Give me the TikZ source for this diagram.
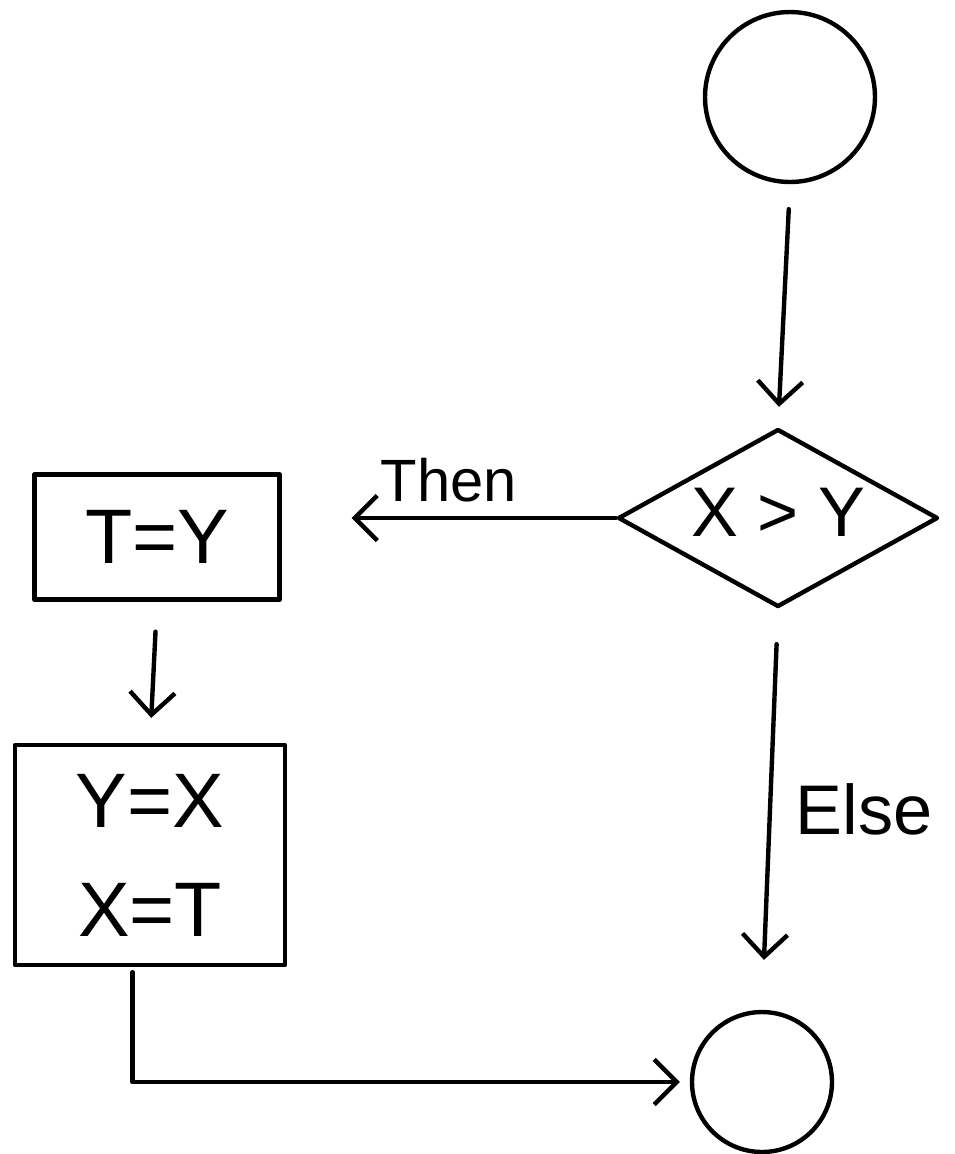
\documentclass[tikz,border=0pt]{standalone}
\usepackage{fontspec}
\setmainfont{Liberation Sans}
\usetikzlibrary{shapes.geometric,arrows.meta}
\begin{document}
\begin{tikzpicture}[x=0.02cm,y=-0.02cm,
  every path/.style={line width=2.5pt,line cap=round,line join=round},
  outline/.style={draw,line width=2.5pt,inner sep=0pt},
  arr/.style={draw,line width=2.5pt,-{Straight Barb[length=4.5mm,width=9mm,line width=2.5pt]}},
  big/.style={font=\fontsize{44}{62}\selectfont}]
\useasboundingbox (0,0) rectangle (955,1154);
% start and end terminals
\node[outline,circle,minimum size=3.4cm] (start) at (790,97) {};
\node[outline,circle,minimum size=2.8cm] (endc) at (762,1082) {};
% decision (label kept out of the shape's size calculation)
\node[outline,diamond,shape aspect=1.8,minimum width=6.4cm,minimum height=3.56cm,
  text height=0.75cm,text depth=0pt,font=\fontsize{40}{48}\selectfont] (dec) at (778,518) {\makebox[0pt]{X > Y}};
% process boxes
\node[outline,rectangle,minimum width=4.9cm,minimum height=2.5cm,big] (box1) at (157,537) {T=Y};
\node[outline,rectangle,minimum width=5.4cm,minimum height=4.4cm,big,align=center] (box2) at (150,855) {Y=X\\X=T};
% connectors
\draw[arr,shorten <=0.5cm,shorten >=0.4cm] (start.south) -- (dec.north);
\draw[arr,shorten >=1.4cm] (dec.west) -- (dec.west -| box1.east)
  node[midway,above=0.15cm,font=\fontsize{34}{40}\selectfont] {Then};
\draw[arr,shorten <=0.6cm,shorten >=0.5cm] (box1.south) -- (box2.north);
\draw[arr,shorten <=0.1cm,shorten >=0.2cm] ([xshift=-0.35cm]box2.south) |- (endc.west);
\draw[arr,shorten <=0.7cm,shorten >=1cm] (dec.south) -- (endc.north)
  node[midway,right=0.35cm,font=\fontsize{40}{48}\selectfont] {Else};
\end{tikzpicture}
\end{document}
